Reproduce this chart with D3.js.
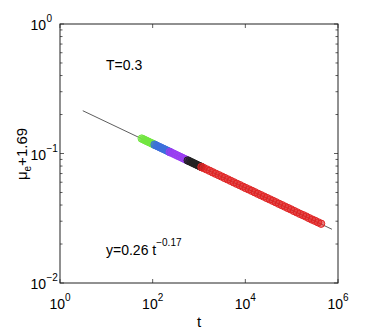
<!DOCTYPE html>
<html>
<head>
<meta charset="utf-8">
<script src="https://cdn.jsdelivr.net/npm/d3@7"></script>
<style>
  body { margin: 0; background: #fff; }
  text { font-family: "Liberation Sans", Arial, sans-serif; fill: #000; }
</style>
</head>
<body>
<div id="chart"></div>
<script>
// data (t, mu_e + 1.69), one array per coloured run
let greenT = [58, 63, 68, 74, 80, 87, 94, 102, 110];
let greenY = [0.1304, 0.1286, 0.1269, 0.1251, 0.1234, 0.1217, 0.1201, 0.1184, 0.1169];

let blueT = [110, 120, 130, 142, 155, 168, 183, 199, 216, 234];
let blueY = [0.1169, 0.1152, 0.1136, 0.1120, 0.1103, 0.1088, 0.1073, 0.1057, 0.1042, 0.1028];

let purpleT = [234, 258, 285, 315, 348, 384, 424, 468, 516, 570];
let purpleY = [0.1028, 0.1012, 0.0995, 0.0978, 0.0961, 0.0946, 0.0930, 0.0914, 0.0899, 0.0884];

let blackT = [570, 620, 680, 740, 810, 880, 960, 1040, 1130];
let blackY = [0.0884, 0.0872, 0.0858, 0.0846, 0.0833, 0.0821, 0.0809, 0.0798, 0.0787];

let redT = [1130, 1260, 1460, 1700, 1970, 2290, 2660, 3090, 3590, 4170, 4840, 5620, 6530, 7590, 8810,
  10200, 11900, 13800, 16000, 18600, 21600, 25100, 29200, 33900, 39400, 45700, 53100, 61700, 71600,
  83200, 96600, 112000, 130000, 151000, 176000, 204000, 237000, 275000, 320000, 372000, 432000];
let redY = [0.0787, 0.0773, 0.0754, 0.0735, 0.0716, 0.0698, 0.0681, 0.0664, 0.0647, 0.0631, 0.0615,
  0.0599, 0.0584, 0.0570, 0.0555, 0.0541, 0.0528, 0.0515, 0.0502, 0.0489, 0.0477, 0.0465, 0.0453,
  0.0442, 0.0431, 0.0420, 0.0409, 0.0399, 0.0389, 0.0379, 0.0370, 0.0360, 0.0351, 0.0342, 0.0334,
  0.0326, 0.0317, 0.0309, 0.0302, 0.0294, 0.0287];

// fitted power law y = 0.26 t^-0.17, end points as drawn
let fitT = [3.1, 740000];
let fitY = [0.214, 0.0260];

let xTicks = [1, 1e2, 1e4, 1e6];
let xTickExp = ["0", "2", "4", "6"];
let yTicks = [0.01, 0.1, 1];
let yTickExp = ["\u22122", "\u22121", "0"];

let series = [
  { t: greenT, y: greenY, color: "#72e640" },
  { t: blueT, y: blueY, color: "#3c6fdc" },
  { t: purpleT, y: purpleY, color: "#9a3cf2" },
  { t: blackT, y: blackY, color: "#222222" },
  { t: redT, y: redY, color: "#e02424" }
];

let width = 374, height = 332;
let plotL = 60, plotR = 338, plotT = 24, plotB = 283;

let svg = d3.select("#chart").append("svg")
  .attr("width", width)
  .attr("height", height);

let x = d3.scaleLog().domain([1, 1e6]).range([plotL, plotR]);
let y = d3.scaleLog().domain([0.01, 1]).range([plotB, plotT]);

// minor ticks on y (2..9 per decade), both sides
let yMinor = [];
[0.01, 0.1].forEach(d => { for (let k = 2; k <= 9; k++) yMinor.push(d * k); });

let ticks = svg.append("g").attr("stroke", "#333").attr("stroke-width", 0.8);
yMinor.forEach(v => {
  ticks.append("line").attr("x1", plotL).attr("x2", plotL + 2.5).attr("y1", y(v)).attr("y2", y(v));
  ticks.append("line").attr("x1", plotR).attr("x2", plotR - 2.5).attr("y1", y(v)).attr("y2", y(v));
});
yTicks.forEach(v => {
  ticks.append("line").attr("x1", plotL).attr("x2", plotL + 4).attr("y1", y(v)).attr("y2", y(v));
  ticks.append("line").attr("x1", plotR).attr("x2", plotR - 4).attr("y1", y(v)).attr("y2", y(v));
});
xTicks.forEach(v => {
  ticks.append("line").attr("x1", x(v)).attr("x2", x(v)).attr("y1", plotB).attr("y2", plotB - 4);
  ticks.append("line").attr("x1", x(v)).attr("x2", x(v)).attr("y1", plotT).attr("y2", plotT + 4);
});

// fit line
let line = d3.line().x(d => x(d[0])).y(d => y(d[1]));
svg.append("path")
  .datum(d3.zip(fitT, fitY))
  .attr("d", line)
  .attr("fill", "none")
  .attr("stroke", "#333")
  .attr("stroke-width", 0.8);

// open circle markers, packed so they read as a band
series.forEach(s => {
  svg.append("g").selectAll("circle")
    .data(d3.zip(s.t, s.y))
    .enter()
    .append("circle")
    .attr("cx", d => x(d[0]))
    .attr("cy", d => y(d[1]))
    .attr("r", 3.7)
    .attr("fill", s.color)
    .attr("fill-opacity", 0.6)
    .attr("stroke", s.color)
    .attr("stroke-width", 1);
});

// frame
svg.append("rect")
  .attr("x", plotL).attr("y", plotT)
  .attr("width", plotR - plotL).attr("height", plotB - plotT)
  .attr("fill", "none")
  .attr("stroke", "#222")
  .attr("stroke-width", 1);

// x tick labels
xTicks.forEach((v, i) => {
  let t = svg.append("text")
    .attr("x", x(v))
    .attr("y", 309)
    .attr("text-anchor", "middle")
    .attr("font-size", 14);
  t.append("tspan").text("10");
  t.append("tspan").attr("dy", -8).attr("font-size", 10).text(xTickExp[i]);
});

// y tick labels
yTicks.forEach((v, i) => {
  svg.append("text")
    .attr("x", 46)
    .attr("y", y(v) + 6)
    .attr("text-anchor", "end")
    .attr("font-size", 14)
    .text("10");
  svg.append("text")
    .attr("x", 46.5)
    .attr("y", y(v) - 2)
    .attr("font-size", 10)
    .text(yTickExp[i]);
});

// axis labels
svg.append("text")
  .attr("x", (plotL + plotR) / 2)
  .attr("y", 327)
  .attr("text-anchor", "middle")
  .attr("font-size", 15)
  .text("t");

let yl = svg.append("text")
  .attr("transform", "translate(27,154) rotate(-90)")
  .attr("text-anchor", "middle")
  .attr("font-size", 15);
yl.append("tspan").text("\u03bc");
yl.append("tspan").attr("dy", 4).attr("font-size", 10).text("e");
yl.append("tspan").attr("dy", -4).text("+1.69");

// annotations
svg.append("text")
  .attr("x", 106).attr("y", 70)
  .attr("font-size", 14)
  .text("T=0.3");

let eq = svg.append("text")
  .attr("x", 106).attr("y", 255)
  .attr("font-size", 14);
eq.append("tspan").text("y=0.26 t");
eq.append("tspan").attr("dy", -9).attr("font-size", 10).text("\u22120.17");
</script>
</body>
</html>
